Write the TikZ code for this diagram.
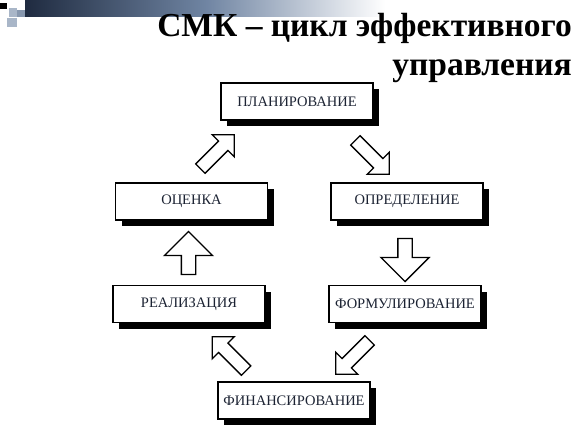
\documentclass[tikz,border=0pt]{standalone}
\usepackage{fontspec}
\setmainfont{Liberation Serif}
\usetikzlibrary{shapes.arrows,shadows}
\definecolor{boxtext}{HTML}{1C2333}
\definecolor{banddark}{HTML}{1F2B40}
\definecolor{bandmid}{HTML}{6F84A2}
\definecolor{sqa}{HTML}{A9B6C8}
\definecolor{sqb}{HTML}{8797AE}
\tikzset{
  stagebox/.style={draw=black, line width=1.2pt, fill=white, minimum width=152pt,
    minimum height=37pt, inner sep=0pt, text=boxtext,
    font=\fontsize{14.5}{16}\selectfont,
    drop shadow={shadow xshift=6pt, shadow yshift=-6pt, opacity=1, fill=black}},
  blockarrow/.style={single arrow, draw=black, line width=1.3pt, fill=white,
    inner sep=6.5pt, minimum height=43pt, minimum width=47pt,
    single arrow head extend=17pt},
  diagarrow/.style={single arrow, draw=black, line width=1.3pt, fill=white,
    inner sep=6pt, minimum height=48pt, minimum width=30pt,
    single arrow head extend=9pt},
  titletext/.style={inner sep=0pt, font=\bfseries\fontsize{33.5}{38}\selectfont, text=black}
}
\begin{document}
\begin{tikzpicture}[x=1pt,y=1pt]
\useasboundingbox (0,0) rectangle (580,434);
% top decoration
\shade[left color=banddark, right color=white, middle color=bandmid] (25,417) rectangle (385,434);
\fill[black] (0,425) rectangle (7,431);
\fill[sqa] (9,417) rectangle (17,426);
\fill[sqb] (17,417) rectangle (25,424);
\fill[sqa] (7,407) rectangle (17,416);
% title
\node[titletext, anchor=base east] (t1) at (572,397) {СМК – цикл эффективного};
\node[titletext, anchor=base east] (t2) at (572,358) {управления};
% boxes
\node[stagebox] (plan) at (297,332.5) {ПЛАНИРОВАНИЕ};
\node[stagebox] (ots) at (191.5,232.5) {ОЦЕНКА};
\node[stagebox] (opr) at (407,232.5) {ОПРЕДЕЛЕНИЕ};
\node[stagebox] (real) at (189,130) {РЕАЛИЗАЦИЯ};
\node[stagebox] (form) at (405,130) {ФОРМУЛИРОВАНИЕ};
\node[stagebox] (fin) at (294,33.5) {ФИНАНСИРОВАНИЕ};
% arrows
\node[diagarrow, rotate=45] (a1) at (215,280) {};
\node[diagarrow, rotate=-45] (a2) at (370,279) {};
\node[blockarrow, rotate=-90] (a3) at (405,177.5) {};
\node[blockarrow, rotate=90] (a4) at (188.5,177.5) {};
\node[diagarrow, rotate=-135] (a5) at (355,79) {};
\node[diagarrow, rotate=135] (a6) at (231.5,78) {};
\end{tikzpicture}
\end{document}
